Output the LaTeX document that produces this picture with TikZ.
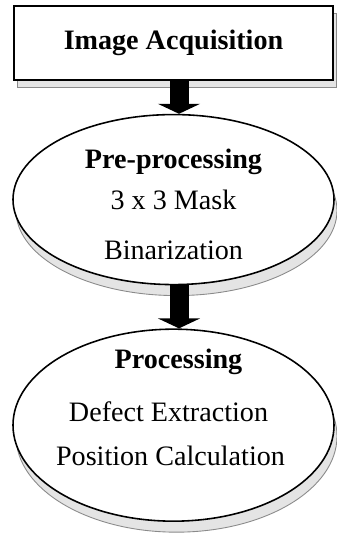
\documentclass[tikz,border=0pt]{standalone}
\usepackage{fontspec}
\setmainfont{Liberation Serif}
\usetikzlibrary{arrows.meta,positioning,shapes.geometric,shadows,calc}
\definecolor{shadefill}{HTML}{E4E4E4}
\definecolor{shadeline}{HTML}{8A8A8A}
\tikzset{
  stage/.style={
    rectangle,
    draw=black,
    line width=0.9pt,
    fill=white,
    minimum width=6.38cm,
    minimum height=1.48cm,
    inner sep=0pt,
    font=\fontsize{16}{19}\selectfont\bfseries,
    drop shadow={shadow xshift=0.06cm,shadow yshift=-0.14cm,opacity=1,fill=shadefill,draw=shadeline,line width=0.5pt}
  },
  phase/.style={
    ellipse,
    draw=black,
    line width=0.9pt,
    fill=white,
    inner sep=0pt,
    minimum width=6.42cm,
    drop shadow={shadow xshift=0.06cm,shadow yshift=-0.22cm,opacity=1,fill=shadefill,draw=shadeline,line width=0.5pt}
  },
  title/.style={anchor=base,font=\fontsize{16}{19}\selectfont\bfseries},
  task/.style={anchor=base,font=\fontsize{16}{19}\selectfont},
  flow/.style={-{Triangle[width=0.84cm,length=0.2cm]},line width=0.38cm,draw=black}
}

\begin{document}
\begin{tikzpicture}
    \useasboundingbox (0,0) rectangle (6.72,-10.86);
    \node[stage] (acq) at (3.47,-0.86) {Image Acquisition};
    \node[phase,minimum height=3.40cm,below=0.66cm of acq] (pre) {};
    \node[phase,minimum height=3.84cm,below=0.86cm of pre] (proc) {};

    \node[title] (preT) at ($(pre.center)+(0,0.62)$) {Pre-processing};
    \node[task] (mask) at ($(pre.center)+(0,-0.20)$) {3 x 3 Mask};
    \node[task] (bin) at ($(pre.center)+(0,-1.20)$) {Binarization};

    \node[title] (procT) at ($(proc.center)+(0.1,1.14)$) {Processing};
    \node[task] (defect) at ($(proc.center)+(-0.1,0.08)$) {Defect Extraction};
    \node[task] (pos) at ($(proc.center)+(-0.06,-0.80)$) {Position Calculation};

    \draw[flow] ([xshift=0.11cm]acq.south) -- ([xshift=0.11cm]pre.north);
    \draw[flow] ([xshift=0.11cm]pre.south) -- ([xshift=0.11cm]proc.north);
  \end{tikzpicture}
\end{document}
